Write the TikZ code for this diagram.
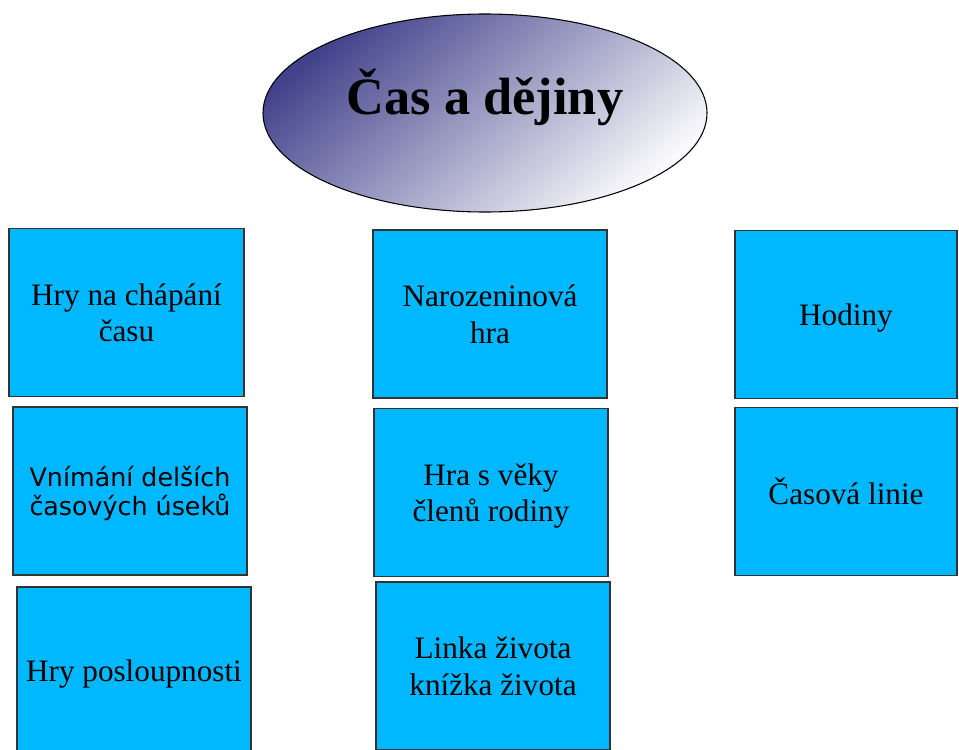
\documentclass[tikz,border=0pt]{standalone}
\usepackage{fontspec}
\setmainfont{Liberation Serif}
\newfontfamily\boxsans{DejaVu Sans}
\usetikzlibrary{shapes.geometric}

\definecolor{boxblue}{RGB}{0,184,255}
\definecolor{titledark}{RGB}{66,66,140}
\definecolor{titlelight}{RGB}{250,250,252}

\tikzset{
	topic box/.style={draw=black!80, line width=1pt, fill=boxblue, inner sep=0pt,
		align=center, text depth=0pt, font=\fontsize{23.4}{27.3}\selectfont},
	sans text/.style={font=\boxsans\fontsize{19}{21.75}\selectfont},
}

\begin{document}
\begin{tikzpicture}[x=0.75pt, y=-0.75pt]

		% Page frame, in pixels of the reference.
		\useasboundingbox (0,0) rectangle (959,749);
		\clip (0,0) rectangle (959,749);

		% Define the macro.
		% 1st argument: Name of the node.
		% 2nd argument: X of the box centre.
		% 3rd argument: Y of the box centre.
		% 4th argument: Width of the box.
		% 5th argument: Options for the node.
		% 6th argument: Text placed in the box.

		\newcommand{\topicBox}[6]{
			\def\bw{#4} % Box width in pixels.
			\def\bh{168} % Box height in pixels, the same for all boxes.

			\node[topic box, #5, minimum width=\bw*0.75pt, minimum height=\bh*0.75pt]
				(#1) at (#2,#3) {#6};
		}

		% TITLE
		\node[ellipse, draw=black, line width=0.8pt, minimum width=444*0.75pt,
			minimum height=198*0.75pt, top color=titledark, bottom color=titlelight,
			shading angle=40] (topic) at (485,113) {};
		\node[font=\bfseries\fontsize{39.3}{45}\selectfont] (topic title) at (485,97)
			{Čas a dějiny};

		% LEFT COLUMN
		\topicBox{hry cas}{126.5}{312.5}{235}{}{Hry na chápání\\času}
		\topicBox{useky}{130}{491}{234}{sans text}{Vnímání delších\\časových úseků}
		\topicBox{posloupnost}{134}{671}{234}{}{Hry posloupnosti}

		% MIDDLE COLUMN
		\topicBox{narozeniny}{490}{314}{234}{}{Narozeninová\\hra}
		\topicBox{veky}{491}{492.5}{234}{}{Hra s věky\\členů rodiny}
		\topicBox{linka}{493}{666}{234}{}{Linka života\\knížka života}

		% RIGHT COLUMN
		\topicBox{hodiny}{846}{314.5}{222}{}{Hodiny}
		\topicBox{casova linie}{846}{491.5}{222}{}{Časová linie}

\end{tikzpicture}
\end{document}
